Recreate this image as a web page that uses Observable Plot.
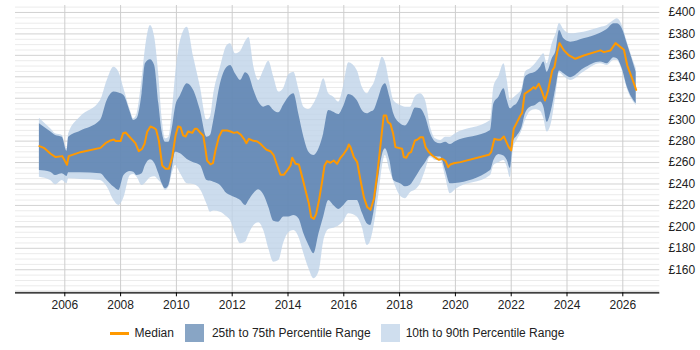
<!DOCTYPE html>
<html>
<head>
<meta charset="utf-8">
<script src="https://cdn.jsdelivr.net/npm/d3@7"></script>
<script src="https://cdn.jsdelivr.net/npm/@observablehq/plot@0.6"></script>
<style>
  html, body { margin: 0; padding: 0; background: #fff; }
  body { width: 700px; height: 350px; position: relative; overflow: hidden;
         font-family: Arial, "Liberation Sans", sans-serif; }
  #legend { position: absolute; top: 324px; left: 0; width: 674px; height: 18px;
            display: flex; justify-content: center; align-items: center;
            font-size: 12px; color: #222; }
  #legend .item { display: flex; align-items: center; }
  #legend .line { width: 19px; height: 3px; background: #ff9900; margin-right: 6px; }
  #legend .box { width: 19px; height: 18px; margin-right: 8px; }
</style>
</head>
<body>
<div id="chart"></div>
<div id="legend">
  <div class="item"><span class="line"></span><span>Median</span></div>
  <div class="item" style="margin-left:11px"><span class="box" style="background:#88a5c5"></span><span>25th to 75th Percentile Range</span></div>
  <div class="item" style="margin-left:10px"><span class="box" style="background:#cfdeee;margin-right:6px"></span><span>10th to 90th Percentile Range</span></div>
</div>
<script>
// Day-rate percentile bands (£), sampled through time
const bandYears = [2005.09, 2005.49, 2005.67, 2005.91, 2006.08, 2006.14, 2006.56, 2007.28, 2007.52, 2007.76,
  2007.94, 2008.12, 2008.35, 2008.47, 2008.59, 2008.77, 2008.89, 2009.07, 2009.22, 2009.37,
  2009.49, 2009.61, 2009.73, 2009.85, 2009.97, 2010.15, 2010.39, 2010.62, 2010.86, 2011.10,
  2011.22, 2011.34, 2011.58, 2011.82, 2011.94, 2012.12, 2012.30, 2012.48, 2012.60, 2012.78,
  2012.95, 2013.13, 2013.31, 2013.49, 2013.67, 2013.85, 2014.03, 2014.21, 2014.39, 2014.57,
  2014.75, 2014.93, 2015.11, 2015.28, 2015.46, 2015.64, 2015.82, 2016.00, 2016.18, 2016.48,
  2016.66, 2016.84, 2016.96, 2017.08, 2017.26, 2017.38, 2017.49, 2017.65, 2017.79, 2018.03,
  2018.21, 2018.39, 2018.57, 2018.75, 2018.93, 2019.11, 2019.29, 2019.47, 2019.65, 2019.82,
  2020.00, 2021.26, 2021.38, 2021.56, 2021.74, 2021.86, 2021.97, 2022.09, 2022.21, 2022.39,
  2022.51, 2022.69, 2022.87, 2023.05, 2023.17, 2023.29, 2023.47, 2023.61, 2023.73, 2023.89,
  2024.13, 2024.60, 2025.20, 2025.44, 2025.68, 2025.80, 2025.98, 2026.16, 2026.48];

const p10 = [246.4, 243.3, 239.2, 243.3, 240.2, 244.8, 244.2, 243.3, 237.1, 224.6,
  219.9, 227.1, 247.9, 248.9, 246.4, 238.6, 240.8, 245.8, 246.7, 243.3,
  239.5, 233.9, 237.1, 249.5, 257.3, 249.5, 240.2, 239.5, 234.9, 220.9,
  213.7, 214.7, 213.7, 209.1, 205.9, 193.5, 184.2, 185.8, 192.9, 201.3,
  203.8, 196.6, 179.5, 167.1, 168.6, 185.1, 194.5, 196.6, 190.4, 174.9,
  160.9, 151.6, 157.8, 186.4, 197.6, 198.8, 200.7, 205.3, 212.2, 209.1,
  199.8, 182.6, 186.7, 199.8, 230.8, 255.7, 266.6, 252.6, 242.3, 228.7,
  226.2, 231.8, 234.3, 240.2, 252.6, 265.1, 261.9, 261.9, 246.4, 230.8,
  234.6, 247.9, 257.3, 259.8, 261.9, 255.7, 245.8, 274.4, 280.6, 289.9,
  299.3, 307.6, 309.5, 307.9, 300.8, 288.4, 299.9, 324.1, 343.7, 340.3,
  336.6, 344.3, 352.1, 350.5, 355.2, 355.2, 345.9, 328.8, 313.2];

const p25 = [252.6, 251.0, 247.9, 249.5, 247.0, 250.4, 250.4, 249.5, 243.3, 237.1,
  233.9, 247.9, 251.7, 251.0, 247.9, 249.5, 257.3, 262.6, 259.4, 249.5,
  240.2, 235.5, 238.6, 254.2, 269.7, 268.2, 262.9, 259.8, 257.3, 243.3,
  242.7, 241.7, 238.6, 230.8, 229.3, 227.1, 224.6, 219.9, 224.6, 231.2,
  234.6, 229.9, 218.4, 205.3, 204.4, 209.1, 209.1, 210.6, 207.5, 193.5,
  182.6, 174.9, 193.5, 209.1, 224.6, 219.9, 216.2, 219.9, 224.6, 224.6,
  213.1, 202.9, 201.3, 213.7, 247.3, 266.6, 272.8, 261.9, 243.3, 240.2,
  237.4, 238.9, 245.5, 253.2, 259.8, 266.0, 265.4, 265.1, 252.6, 240.2,
  240.5, 252.6, 261.9, 267.5, 266.0, 261.9, 254.5, 280.6, 284.6, 293.0,
  305.5, 311.7, 313.2, 316.4, 311.7, 297.7, 311.7, 330.4, 345.3, 342.8,
  339.1, 347.4, 353.7, 352.1, 357.7, 356.8, 347.4, 330.4, 314.8];

const p75 = [296.1, 288.7, 285.3, 283.7, 270.6, 283.7, 289.3, 299.3, 317.9, 325.7,
  324.8, 322.6, 307.0, 299.3, 300.8, 324.1, 352.1, 355.8, 350.5, 314.8,
  288.4, 279.0, 279.0, 291.5, 311.7, 322.6, 333.5, 327.2, 308.6, 283.7,
  285.3, 299.3, 333.5, 349.0, 350.5, 342.5, 336.6, 343.7, 341.2, 327.2,
  316.4, 311.7, 313.2, 308.6, 306.4, 313.9, 321.0, 324.1, 304.8, 283.7,
  269.7, 266.6, 272.8, 286.8, 308.6, 307.0, 304.8, 312.6, 323.5, 317.9,
  308.6, 305.5, 307.0, 308.6, 321.0, 330.4, 333.5, 321.0, 305.5, 296.1,
  294.0, 300.8, 310.8, 310.1, 302.4, 286.8, 279.0, 277.5, 279.0, 276.9,
  279.4, 289.9, 314.8, 321.0, 328.8, 317.9, 310.1, 312.6, 314.8, 325.7,
  339.7, 342.8, 344.3, 349.0, 353.7, 344.3, 356.8, 364.6, 383.2, 375.4,
  372.3, 375.4, 380.7, 384.1, 389.4, 389.4, 384.8, 370.8, 344.3];

const p90 = [301.4, 291.5, 286.8, 285.3, 272.8, 286.8, 302.4, 317.9, 336.6, 349.0,
  344.3, 328.8, 308.6, 300.8, 305.5, 338.1, 366.1, 387.9, 377.0, 341.2,
  300.8, 282.1, 283.7, 307.0, 341.2, 373.9, 386.3, 358.3, 330.4, 299.3,
  302.4, 324.1, 349.0, 369.2, 370.8, 361.4, 363.6, 372.9, 376.7, 349.0,
  336.6, 345.9, 354.6, 339.7, 325.7, 329.4, 341.8, 344.3, 328.2, 311.7,
  309.5, 314.8, 325.4, 338.1, 324.1, 321.0, 316.4, 331.9, 353.0, 345.9,
  330.4, 324.1, 328.8, 333.5, 349.0, 358.3, 353.7, 333.5, 317.9, 313.2,
  311.7, 311.7, 321.6, 324.1, 317.9, 293.0, 282.1, 280.6, 283.7, 283.7,
  286.8, 299.3, 330.4, 340.3, 352.1, 336.6, 317.9, 320.1, 322.9, 328.8,
  344.3, 347.4, 352.1, 358.3, 361.4, 352.1, 370.8, 380.1, 389.7, 383.8,
  380.1, 381.6, 386.0, 387.9, 392.5, 394.1, 387.9, 372.3, 347.4];

// Median day rate (£)
const medianYears = [2005.09, 2005.25, 2005.49, 2005.67, 2005.91, 2006.08, 2006.14, 2006.56, 2007.28, 2007.46,
  2007.64, 2007.76, 2007.82, 2008.00, 2008.09, 2008.18, 2008.35, 2008.53, 2008.65, 2008.77,
  2008.86, 2008.95, 2009.07, 2009.19, 2009.27, 2009.37, 2009.49, 2009.61, 2009.73, 2009.85,
  2009.97, 2010.06, 2010.15, 2010.24, 2010.33, 2010.42, 2010.57, 2010.66, 2010.74, 2010.86,
  2010.96, 2011.04, 2011.10, 2011.22, 2011.31, 2011.40, 2011.52, 2011.64, 2011.82, 2011.94,
  2012.06, 2012.18, 2012.30, 2012.42, 2012.51, 2012.60, 2012.72, 2012.90, 2013.01, 2013.13,
  2013.23, 2013.37, 2013.49, 2013.61, 2013.73, 2013.85, 2013.97, 2014.09, 2014.15, 2014.27,
  2014.39, 2014.51, 2014.63, 2014.75, 2014.83, 2014.93, 2015.01, 2015.11, 2015.22, 2015.31,
  2015.40, 2015.52, 2015.64, 2015.76, 2015.88, 2016.00, 2016.12, 2016.18, 2016.24, 2016.36,
  2016.48, 2016.60, 2016.72, 2016.84, 2016.96, 2017.08, 2017.20, 2017.32, 2017.43, 2017.52,
  2017.58, 2017.67, 2017.77, 2017.85, 2018.09, 2018.15, 2018.24, 2018.33, 2018.41, 2018.55,
  2018.63, 2018.75, 2018.84, 2018.93, 2019.05, 2019.17, 2019.35, 2019.41, 2019.53, 2019.65,
  2019.74, 2019.82, 2019.94, 2020.18, 2021.20, 2021.28, 2021.40, 2021.52, 2021.62, 2021.74,
  2021.83, 2021.91, 2022.00, 2022.09, 2022.21, 2022.33, 2022.39, 2022.48, 2022.57, 2022.69,
  2022.81, 2022.87, 2022.99, 2023.11, 2023.21, 2023.32, 2023.47, 2023.55, 2023.65, 2023.73,
  2023.89, 2024.07, 2024.30, 2024.60, 2025.20, 2025.32, 2025.56, 2025.74, 2025.92, 2026.04,
  2026.16, 2026.34, 2026.48];

const medianPay = [275.3, 273.7, 268.2, 265.1, 266.0, 257.9, 266.0, 269.7, 273.7, 278.1,
  280.6, 281.5, 280.0, 280.0, 287.4, 288.0, 283.1, 278.1, 270.6, 272.8,
  277.5, 288.4, 293.6, 292.4, 290.8, 280.6, 257.3, 254.2, 254.2, 265.1,
  285.3, 293.6, 293.0, 285.3, 284.3, 289.0, 287.7, 291.5, 291.5, 287.7,
  285.3, 272.8, 261.9, 258.2, 259.4, 271.3, 283.7, 289.9, 289.9, 289.0,
  287.7, 288.4, 286.2, 282.1, 278.1, 282.1, 280.6, 279.7, 277.5, 274.4,
  271.9, 270.6, 266.6, 257.3, 248.6, 248.6, 252.6, 257.3, 264.4, 258.8,
  258.2, 246.4, 233.9, 221.5, 209.1, 207.5, 212.2, 224.6, 241.7, 257.3,
  261.3, 259.8, 261.9, 258.8, 264.4, 268.2, 272.8, 276.9, 274.4, 265.1,
  260.4, 243.3, 227.7, 218.4, 215.9, 226.2, 249.5, 277.5, 303.9, 303.9,
  297.7, 296.1, 286.8, 274.4, 272.8, 265.1, 264.4, 268.8, 269.7, 280.6,
  281.2, 283.7, 283.7, 274.4, 269.7, 266.6, 263.5, 262.6, 263.5, 261.3,
  255.7, 258.2, 259.4, 260.4, 267.2, 269.7, 282.1, 281.2, 281.2, 284.3,
  279.0, 274.4, 271.3, 291.5, 297.7, 303.9, 306.1, 324.1, 325.7, 327.8,
  330.4, 328.8, 333.5, 325.7, 317.9, 327.2, 345.9, 349.0, 363.0, 371.4,
  364.6, 359.9, 356.8, 359.9, 364.6, 363.0, 364.6, 371.4, 367.7, 365.2,
  350.5, 338.1, 327.8];

// Axis tick values
const yearTicks = [2006, 2008, 2010, 2012, 2014, 2016, 2018, 2020, 2022, 2024, 2026];
const payTicks = [160, 180, 200, 220, 240, 260, 280, 300, 320, 340, 360, 380, 400];

const bands = bandYears.map((year, i) => ({year, p10: p10[i], p25: p25[i], p75: p75[i], p90: p90[i]}));
const median = medianYears.map((year, i) => ({year, pay: medianPay[i]}));

const yDomain = [138.5, 406.5];
const minorGrid = d3.range(140, 406, 5).filter(v => v % 20 !== 0);
const majorGrid = d3.range(140, 406, 20);

const chart = Plot.plot({
  width: 700,
  height: 315,
  marginLeft: 15,
  marginRight: 40.7,
  marginTop: 5,
  marginBottom: 22.7,
  style: {fontFamily: "Arial, 'Liberation Sans', sans-serif", fontSize: "12px", color: "#222", background: "#fff", overflow: "visible"},
  x: {domain: [2004.233, 2027.326], label: null},
  y: {domain: yDomain, label: null},
  marks: [
    Plot.ruleY(minorGrid, {stroke: "#ebebeb", strokeWidth: 1}),
    Plot.ruleY(majorGrid, {stroke: "#d2d2d2", strokeWidth: 1}),
    Plot.ruleX(yearTicks, {stroke: "#cdcdcd", strokeWidth: 1}),
    Plot.areaY(bands, {x: "year", y1: "p10", y2: "p90", curve: "monotone-x", fill: "rgb(191,211,233)", fillOpacity: 0.8}),
    Plot.areaY(bands, {x: "year", y1: "p25", y2: "p75", curve: "monotone-x", fill: "rgb(83,123,171)", fillOpacity: 0.8}),
    Plot.line(median, {x: "year", y: "pay", stroke: "#ff9900", strokeWidth: 2, strokeLinejoin: "round"}),
    Plot.ruleY([yDomain[0]], {stroke: "#000", strokeWidth: 1.2}),
    Plot.axisX({ticks: yearTicks, tickFormat: d => String(d), tickSize: 4, tickPadding: 3.5, stroke: "#000", fill: "#222"}),
    Plot.axisY({anchor: "right", ticks: payTicks, tickFormat: d => "£" + d, tickSize: 0, tickPadding: 8.7, fill: "#222"})
  ]
});
document.getElementById("chart").appendChild(chart);
</script>
</body>
</html>
